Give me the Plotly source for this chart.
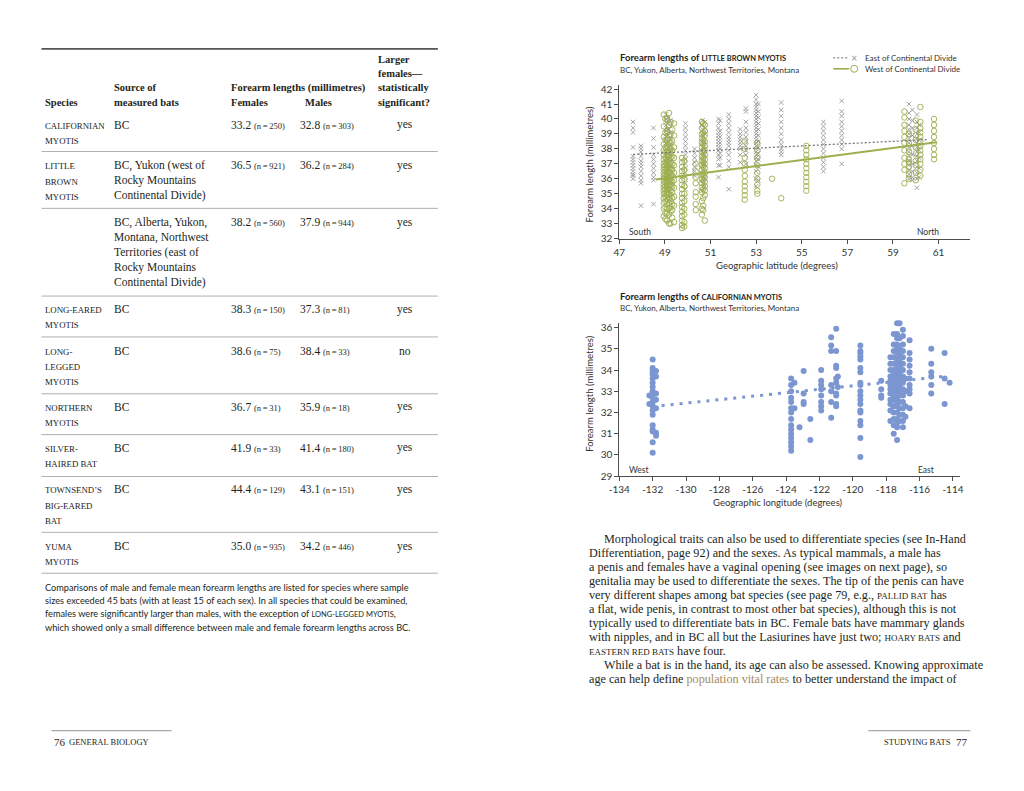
import plotly.graph_objects as go

W, H = 1024, 791
SERIF = "Liberation Serif"
SANS = "Lato"

# ---------------- Table data (left page) ----------------
species = [["CALIFORNIAN", "MYOTIS"], ["LITTLE", "BROWN", "MYOTIS"], [],
           ["LONG-EARED", "MYOTIS"], ["LONG-", "LEGGED", "MYOTIS"],
           ["NORTHERN", "MYOTIS"], ["SILVER-", "HAIRED BAT"],
           ["TOWNSEND\u2019S", "BIG-EARED", "BAT"], ["YUMA", "MYOTIS"]]
sources = [["BC"],
           ["BC, Yukon (west of", "Rocky Mountains", "Continental Divide)"],
           ["BC, Alberta, Yukon,", "Montana, Northwest", "Territories (east of",
            "Rocky Mountains", "Continental Divide)"],
           ["BC"], ["BC"], ["BC"], ["BC"], ["BC"], ["BC"]]
fem_mean = [33.2, 36.5, 38.2, 38.3, 38.6, 36.7, 41.9, 44.4, 35.0]
fem_n = [250, 921, 560, 150, 75, 31, 33, 129, 935]
male_mean = [32.8, 36.2, 37.9, 37.3, 38.4, 35.9, 41.4, 43.1, 34.2]
male_n = [303, 284, 944, 81, 33, 18, 180, 151, 446]
significant = ["yes", "yes", "yes", "yes", "no", "yes", "yes", "yes", "yes"]

# ---------------- Little brown myotis (latitude) ----------------
east_lat = ([47.6] * 13 + [47.95] * 12 + [48.5] * 11 + [49.05] * 19 + [49.25] * 9 +
            [49.9] * 16 + [50.3] * 7 + [50.65] * 16 + [51.35] * 14 + [51.8] * 14 +
            [52.3] * 9 + [52.55] * 11 + [53.0] * 26 + [54.1] * 11 + [55.95] * 12 +
            [56.75] * 11 + [59.7] * 16 + [60.05] * 14 +
            [49.15] * 14 + [50.75] * 10 + [53.1] * 12 + [51.42] * 8 + [59.85] * 10 + [60.15] * 8)
east_len = [39.8, 39.4, 39.1, 38.1, 37.5, 37.3, 37.1, 36.9, 36.7, 36.5, 36.3, 36.2, 36.0,
            38.2, 38.0, 37.8, 37.5, 37.2, 37.0, 36.8, 36.5, 36.2, 35.9, 35.7, 34.2,
            39.4, 38.7, 38.1, 37.6, 37.3, 37.0, 36.7, 36.4, 36.1, 35.9, 34.3,
            40.3, 40.0, 39.8, 39.6, 39.4, 39.2, 39.0, 38.8, 38.6, 38.4, 38.2, 38.0, 37.8, 37.5,
            37.2, 36.9, 36.5, 36.0, 35.5,
            39.9, 39.5, 39.1, 38.7, 38.3, 37.9, 37.6, 37.2, 36.8,
            39.7, 39.4, 39.1, 38.8, 38.5, 38.2, 37.9, 37.6, 37.3, 37.0, 36.7, 36.4, 36.1, 35.7,
            35.3, 34.8,
            38.0, 37.7, 37.4, 37.1, 36.8, 36.5, 36.2,
            39.9, 39.6, 39.3, 39.0, 38.7, 38.4, 38.1, 37.8, 37.5, 37.2, 36.9, 36.6, 36.3, 36.0,
            35.7, 35.2,
            40.0, 39.7, 39.4, 39.1, 38.9, 38.7, 38.5, 38.3, 38.1, 37.9, 37.6, 37.3, 36.9, 36.1,
            40.3, 40.0, 39.7, 39.4, 39.1, 38.8, 38.6, 38.4, 38.2, 37.9, 37.6, 37.2, 36.8, 35.3,
            39.3, 39.0, 38.8, 38.6, 38.4, 38.2, 38.0, 37.6, 37.1,
            40.7, 40.5, 39.8, 39.4, 39.1, 38.8, 38.5, 38.2, 37.9, 37.6, 37.0,
            41.6, 41.3, 41.0, 40.8, 40.6, 40.4, 40.2, 40.0, 39.8, 39.6, 39.4, 39.2, 39.0, 38.8,
            38.6, 38.4, 38.2, 38.0, 37.8, 37.6, 37.4, 37.2, 36.9, 36.5, 36.0, 35.5,
            41.1, 40.6, 40.2, 39.8, 39.4, 39.0, 38.6, 38.3, 38.0, 37.8, 37.6,
            39.8, 39.5, 39.2, 38.9, 38.6, 38.3, 38.0, 37.7, 37.4, 37.1, 36.8, 36.5,
            41.2, 40.5, 40.2, 39.8, 39.5, 39.2, 38.9, 38.6, 38.3, 38.0, 37.0,
            41.0, 40.4, 40.0, 39.6, 39.3, 39.0, 38.7, 38.4, 38.1, 37.8, 37.5, 37.2, 36.9, 36.6,
            36.3, 36.0,
            40.3, 39.8, 39.4, 39.0, 38.7, 38.4, 38.1, 37.8, 37.5, 37.2, 36.8, 36.4, 36.0, 35.4,
            40.1, 39.7, 39.3, 38.9, 38.5, 38.1, 37.7, 37.3, 36.9, 36.6, 36.2, 35.8, 35.2, 34.6,
            39.8, 39.4, 39.0, 38.5, 38.0, 37.6, 37.0, 36.5, 36.0, 35.5,
            41.0, 40.5, 40.1, 39.7, 39.3, 38.9, 38.5, 38.1, 37.7, 37.3, 36.8, 35.9,
            39.9, 39.2, 38.8, 38.4, 38.0, 37.7, 37.4, 36.9,
            40.6, 39.9, 39.4, 38.9, 38.2, 37.6, 37.0, 36.5, 36.1, 35.9,
            39.6, 39.1, 38.6, 38.3, 37.9, 37.4, 36.7, 36.1]

west_lat = ([48.95] * 22 + [49.1] * 23 + [49.25] * 21 + [49.4] * 11 + [49.75] * 17 +
            [50.35] * 8 + [50.62] * 19 + [50.75] * 17 + [52.5] * 11 + [53.05] * 9 +
            [53.7] + [54.1] + [55.2] * 11 + [59.5] * 11 + [60.2] * 13 + [60.8] * 8 +
            [49.02] * 20 + [49.18] * 20 + [49.32] * 14 + [49.85] * 10 + [50.68] * 14 +
            [60.0] * 10 + [59.7] * 8)
west_len = [40.3, 39.5, 38.8, 38.3, 37.9, 37.6, 37.3, 37.0, 36.8, 36.6, 36.4, 36.2, 36.0,
            35.8, 35.6, 35.4, 35.2, 35.0, 34.7, 34.4, 34.0, 33.5,
            40.0, 39.2, 38.6, 38.2, 37.8, 37.5, 37.2, 36.9, 36.7, 36.5, 36.3, 36.1, 35.9, 35.7,
            35.5, 35.3, 35.1, 34.9, 34.6, 34.3, 34.0, 33.7, 33.2,
            39.8, 39.0, 38.4, 38.0, 37.7, 37.4, 37.1, 36.8, 36.6, 36.4, 36.2, 36.0, 35.8, 35.6,
            35.4, 35.2, 34.9, 34.5, 34.1, 33.8, 33.0,
            39.7, 38.9, 38.1, 37.4, 36.9, 36.4, 35.9, 35.4, 34.8, 34.2, 33.1,
            37.4, 37.1, 36.8, 36.5, 36.2, 35.9, 35.6, 35.3, 35.0, 34.7, 34.4, 34.1, 33.8, 33.5,
            33.2, 32.9, 32.7,
            37.0, 36.5, 36.1, 35.7, 35.1, 34.8, 34.3, 33.9,
            39.8, 39.4, 39.0, 38.7, 38.4, 38.1, 37.8, 37.5, 37.2, 36.9, 36.6, 36.3, 36.0, 35.7,
            35.4, 35.1, 34.5, 34.0, 33.6,
            39.6, 39.2, 38.9, 38.5, 38.2, 37.9, 37.6, 37.3, 37.0, 36.7, 36.4, 36.1, 35.8, 35.5,
            35.2, 34.9, 33.2,
            38.5, 38.0, 37.4, 37.0, 36.6, 36.2, 35.8, 35.5, 35.2, 34.9, 34.6,
            38.4, 37.9, 37.4, 36.9, 36.4, 36.0, 35.6, 35.2, 35.0,
            36.0, 34.7,
            38.2, 37.9, 37.6, 37.3, 37.0, 36.7, 36.4, 36.1, 35.8, 35.5, 35.2,
            40.5, 40.1, 39.6, 39.2, 38.8, 38.4, 37.9, 37.4, 37.0, 36.6, 35.7,
            40.8, 39.8, 39.4, 39.1, 38.8, 38.5, 38.2, 37.9, 37.6, 37.3, 37.0, 36.6, 36.2,
            40.0, 39.6, 39.2, 38.8, 38.4, 38.0, 37.6, 37.3,
            40.0, 39.1, 38.6, 38.1, 37.8, 37.4, 37.1, 36.9, 36.6, 36.3, 36.1, 35.8, 35.5, 35.3,
            35.0, 34.8, 34.5, 34.1, 33.7, 33.3,
            40.4, 39.6, 38.9, 38.4, 37.9, 37.6, 37.3, 37.0, 36.7, 36.4, 36.1, 35.8, 35.6, 35.3,
            35.0, 34.7, 34.4, 34.0, 33.6, 33.0,
            39.3, 38.5, 37.9, 37.5, 37.0, 36.6, 36.2, 35.8, 35.5, 35.1, 34.7, 34.3, 33.9, 33.4,
            37.2, 36.6, 36.0, 35.5, 35.0, 34.5, 34.0, 33.6, 33.1, 32.8,
            39.7, 39.1, 38.6, 38.3, 37.9, 37.4, 37.1, 36.8, 36.2, 35.9, 35.3, 34.7, 34.2, 33.9,
            39.9, 39.3, 38.9, 38.6, 38.1, 37.7, 37.2, 36.9, 36.4, 35.9,
            39.0, 38.4, 37.8, 37.3, 36.8, 36.3, 36.0, 37.1]

east_fit_lat = [47.6, 60.5]
east_fit_len = [37.63, 38.62]
west_fit_lat = [48.6, 60.9]
west_fit_len = [35.95, 38.45]
lat_ticks = [47, 49, 51, 53, 55, 57, 59, 61]
lat_len_ticks = [32, 33, 34, 35, 36, 37, 38, 39, 40, 41, 42]

# ---------------- Californian myotis (longitude) ----------------
cal_lon = ([-132.0] * 20 + [-131.8] * 7 + [-132.2] * 2 + [-123.7] * 15 + [-123.5] * 2 +
           [-123.2] + [-122.95] * 4 + [-122.55] * 2 + [-121.9] * 8 + [-121.3] * 7 +
           [-121.0] * 10 + [-120.9] * 2 + [-119.55] * 19 + [-118.3] * 5 + [-117.75] * 12 +
           [-117.55] * 18 + [-117.35] * 25 + [-117.2] * 17 + [-117.0] * 16 + [-116.85] * 4 +
           [-116.6] * 10 + [-115.3] * 6 + [-114.5] * 3 + [-114.2])
cal_len = [34.5, 34.1, 34.0, 33.9, 33.8, 33.6, 33.4, 33.2, 33.0, 32.9, 32.7, 32.5, 32.3,
           32.1, 31.9, 31.4, 31.2, 31.1, 30.6, 30.1,
           33.95, 33.7, 32.9, 32.6, 32.2, 31.05, 30.9,
           32.8, 32.4,
           33.6, 33.3, 33.0, 32.7, 32.5, 32.2, 32.0, 31.7, 31.4, 31.2, 31.0, 30.8, 30.6, 30.4, 30.2,
           33.4, 32.2,
           31.3,
           33.95, 32.9, 32.5, 32.4,
           31.7, 30.7,
           34.0, 33.5, 33.3, 33.1, 32.8, 32.5, 32.3, 32.1,
           35.55, 35.15, 34.9, 33.3, 33.0, 32.5, 31.75,
           35.95, 34.9, 34.2, 34.1, 33.6, 33.4, 32.9, 32.8, 32.4, 32.3,
           33.7, 33.2,
           35.15, 34.9, 34.8, 34.65, 34.5, 34.1, 33.9, 33.4, 33.3, 33.0, 32.8, 32.6, 32.4, 32.1,
           32.0, 31.6, 31.4, 30.8, 29.9,
           36.3, 33.5, 33.1, 32.8, 32.7,
           34.6, 34.3, 34.0, 33.7, 33.5, 33.3, 33.1, 32.9, 32.6, 32.4, 32.1, 31.6,
           35.7, 35.2, 34.9, 34.6, 34.3, 34.0, 33.8, 33.6, 33.4, 33.2, 33.0, 32.8, 32.6, 32.3,
           32.0, 31.7, 31.4, 31.0,
           36.7, 36.5, 36.2, 35.7, 35.5, 35.2, 35.0, 34.8, 34.5, 34.3, 34.1, 33.9, 33.7, 33.5,
           33.3, 33.1, 32.9, 32.7, 32.5, 32.3, 32.0, 31.7, 31.5, 31.3, 30.7,
           36.2, 35.5, 35.0, 34.7, 34.4, 34.2, 34.0, 33.8, 33.6, 33.4, 33.2, 33.0, 32.8, 32.5,
           32.2, 31.9, 31.6,
           35.9, 35.6, 35.2, 34.9, 34.6, 34.3, 34.0, 33.7, 33.4, 33.1, 32.8, 32.5, 32.2, 31.9,
           31.6, 31.3,
           33.6, 33.0, 32.3, 31.8,
           35.4, 34.8, 34.5, 34.2, 33.9, 33.6, 33.3, 33.1, 32.9, 32.2,
           35.0, 34.3, 33.9, 33.7, 33.3, 32.9,
           34.8, 33.6, 32.4,
           33.4]
cal_fit_lon = [-132.0, -114.3]
cal_fit_len = [32.28, 33.72]
lon_ticks = [-134, -132, -130, -128, -126, -124, -122, -120, -118, -116, -114]
lon_len_ticks = [29, 30, 31, 32, 33, 34, 35, 36]

# ---------------- Colours ----------------
GREEN = "#9aae4c"
GRAY = "#9a9a9a"
BLUE = "#7b96d1"
TXT = "#231f20"
AX = "#4d4d4d"

# The page photograph comes out slightly scaled; these factors map the intended
# pixel positions on the reference page to figure coordinates.
SX, OX, SY = 0.9855, 11.5, 0.993


def px(x):
    return ((x - OX) / SX) / W


def py(y):
    return 1 - (y / SY) / H


fig = go.Figure()

# chart 1 traces
fig.add_trace(go.Scatter(x=east_lat, y=east_len, mode="markers", xaxis="x", yaxis="y",
                         marker=dict(symbol="x-thin", size=4.5, color=GRAY,
                                     line=dict(color=GRAY, width=0.9)), showlegend=False))
fig.add_trace(go.Scatter(x=west_lat, y=west_len, mode="markers", xaxis="x", yaxis="y",
                         marker=dict(symbol="circle-open", size=5.5, color=GREEN,
                                     line=dict(color=GREEN, width=0.9)), showlegend=False))
fig.add_trace(go.Scatter(x=east_fit_lat, y=east_fit_len, mode="lines", xaxis="x", yaxis="y",
                         line=dict(color="#7a7a7a", width=1.3, dash="2px,2px"), showlegend=False))
fig.add_trace(go.Scatter(x=west_fit_lat, y=west_fit_len, mode="lines", xaxis="x", yaxis="y",
                         line=dict(color="#9bb04e", width=2), showlegend=False))

# chart 2 traces
fig.add_trace(go.Scatter(x=cal_lon, y=cal_len, mode="markers", xaxis="x2", yaxis="y2",
                         cliponaxis=False,
                         marker=dict(symbol="circle", size=6, color=BLUE), showlegend=False))
fig.add_trace(go.Scatter(x=cal_fit_lon, y=cal_fit_len, mode="lines", xaxis="x2", yaxis="y2",
                         line=dict(color=BLUE, width=3, dash="3px,6px"), showlegend=False))

axis_common = dict(showgrid=False, zeroline=False, showline=True, linecolor=AX, linewidth=1,
                   ticks="outside", ticklen=4, tickcolor=AX, tickwidth=1,
                   tickfont=dict(family=SANS, size=10, color="#333333"))

fig.update_layout(
    width=W, height=H, margin=dict(l=0, r=0, t=0, b=0),
    paper_bgcolor="white", plot_bgcolor="rgba(0,0,0,0)",
    xaxis=dict(domain=[px(619.3), px(970)], range=[47, 62.39], anchor="y",
               tickvals=lat_ticks, **axis_common),
    yaxis=dict(domain=[py(237.3), py(83.3)], range=[32, 42.27], anchor="x",
               tickvals=lat_len_ticks, **axis_common),
    xaxis2=dict(domain=[px(619.3), px(960)], range=[-134, -113.56], anchor="y2",
                tickvals=lon_ticks, ticktext=[str(v) for v in lon_ticks], **axis_common),
    yaxis2=dict(domain=[py(475.7), py(321.7)], range=[29, 36.23], anchor="x2",
                tickvals=lon_len_ticks, **axis_common),
)

ann = []
shapes = []


def text(x, y, s, size=11, family=SERIF, color=TXT, anchor="left", **kw):
    ann.append(dict(x=px(x), y=py(y), xref="paper", yref="paper", text=s, showarrow=False,
                    xanchor=anchor, yanchor="middle",
                    font=dict(family=family, size=size, color=color), **kw))


def hline(x0, x1, y, color="#9a9a9a", width=0.8):
    shapes.append(dict(type="line", xref="paper", yref="paper", x0=px(x0), x1=px(x1),
                       y0=py(y), y1=py(y), line=dict(color=color, width=width)))


# ---------------- Left page: table ----------------
hline(42, 438, 47, color="#555555", width=1.6)
for t, yy in zip(["Larger", "females\u2014", "statistically", "significant?"], [58, 72, 86, 101]):
    text(376, yy, "<b>" + t + "</b>", size=10.5)
text(43, 101, "<b>Species</b>", size=10.5)
text(112, 86, "<b>Source of</b>", size=10.5)
text(112, 101, "<b>measured bats</b>", size=10.5)
text(229, 86, "<b>Forearm lengths (millimetres)</b>", size=10.5)
text(229, 101, "<b>Females</b>", size=10.5)
text(303, 101, "<b>Males</b>", size=10.5)

row_top = [124, 165, 222, 309, 351, 407, 448, 490, 547]
rule_y = [150, 207, 295, 336, 393, 434, 476, 532, 573]
for i in range(len(fem_mean)):
    y0 = row_top[i]
    for k, s in enumerate(species[i]):
        text(43, y0 + k * 15.2, s, size=8.8, color="#222222")
    for k, s in enumerate(sources[i]):
        text(112, y0 - 1 + k * 15.2, s, size=11.5)
    text(229, y0 - 1, f"{fem_mean[i]:.1f} <span style='font-size:8.5px'>(n\u2009=\u2009{fem_n[i]})</span>",
         size=11.5)
    text(298, y0 - 1, f"{male_mean[i]:.1f} <span style='font-size:8.5px'>(n\u2009=\u2009{male_n[i]})</span>",
         size=11.5)
    text(405, y0 - 1, significant[i], size=11.5, anchor="center")
    hline(42, 438, rule_y[i])

caption = ["Comparisons of male and female mean forearm lengths are listed for species where sample",
           "sizes exceeded 45 bats (with at least 15 of each sex). In all species that could be examined,",
           "females were significantly larger than males, with the exception of <span style='font-size:7.5px'>LONG-LEGGED MYOTIS</span>,",
           "which showed only a small difference between male and female forearm lengths across BC."]
for k, s in enumerate(caption):
    text(43, 587 + k * 13.4, s, size=9.2, family=SANS)

# footers
hline(52, 172, 731, color="#777777", width=0.8)
hline(868, 970, 731, color="#777777", width=0.8)
text(52, 742, "76", size=11)
text(67, 742, "GENERAL BIOLOGY", size=8.5)
text(953, 742, "STUDYING BATS", size=8.5, anchor="right")
text(970, 742, "77", size=11, anchor="right")

# ---------------- Chart 1 texts ----------------
text(618, 56, "<b>Forearm lengths of <span style='font-size:7.5px'>LITTLE BROWN MYOTIS</span></b>",
     size=9.5, family=SANS)
text(618, 68, "BC, Yukon, Alberta, Northwest Territories, Montana", size=8, family=SANS, color="#333333")
text(590, 163, "Forearm length (millimetres)", size=9.5, family=SANS, color="#333333",
     anchor="center", textangle=-90)
text(777, 264, "Geographic latitude (degrees)", size=9.5, family=SANS, color="#333333", anchor="center")
text(627, 231, "South", size=8.5, family=SANS, color="#333333")
text(915, 231, "North", size=8.5, family=SANS, color="#333333")
# legend
shapes.append(dict(type="line", xref="paper", yref="paper", x0=px(833), x1=px(849), y0=py(56),
                   y1=py(56), line=dict(color="#888888", width=1.2, dash="2px,2px")))
text(854, 55.5, "\u00d7", size=11, family=SANS, color=GRAY, anchor="center")
text(863, 56, "East of Continental Divide", size=8, family=SANS, color="#333333")
shapes.append(dict(type="line", xref="paper", yref="paper", x0=px(833), x1=px(849), y0=py(67),
                   y1=py(67), line=dict(color=GREEN, width=1.6)))
shapes.append(dict(type="circle", xref="paper", yref="paper", x0=px(850.5), x1=px(857.5),
                   y0=py(70.5), y1=py(63.5), line=dict(color=GREEN, width=1)))
text(863, 67, "West of Continental Divide", size=8, family=SANS, color="#333333")

# ---------------- Chart 2 texts ----------------
text(618, 295, "<b>Forearm lengths of <span style='font-size:7.5px'>CALIFORNIAN MYOTIS</span></b>",
     size=9.5, family=SANS)
text(618, 307, "BC, Yukon, Alberta, Northwest Territories, Montana", size=8, family=SANS, color="#333333")
text(590, 393, "Forearm length (millimetres)", size=9.5, family=SANS, color="#333333",
     anchor="center", textangle=-90)
text(778, 502, "Geographic longitude (degrees)", size=9.5, family=SANS, color="#333333", anchor="center")
text(627, 469, "West", size=8.5, family=SANS, color="#333333")
text(916, 469, "East", size=8.5, family=SANS, color="#333333")

# ---------------- Right page body text ----------------
sc = "<span style='font-size:9px'>{}</span>"
body = [
    (602, "Morphological traits can also be used to differentiate species (see In-Hand"),
    (587, "Differentiation, page 92) and the sexes. As typical mammals, a male has"),
    (587, "a penis and females have a vaginal opening (see images on next page), so"),
    (587, "genitalia may be used to differentiate the sexes. The tip of the penis can have"),
    (587, "very different shapes among bat species (see page 79, e.g., " + sc.format("PALLID BAT") + " has"),
    (587, "a flat, wide penis, in contrast to most other bat species), although this is not"),
    (587, "typically used to differentiate bats in BC. Female bats have mammary glands"),
    (587, "with nipples, and in BC all but the Lasiurines have just two; " + sc.format("HOARY BATS") + " and"),
    (587, sc.format("EASTERN RED BATS") + " have four."),
    (602, "While a bat is in the hand, its age can also be assessed. Knowing approximate"),
    (587, "age can help define <span style='color:#a68a5b'>population vital rates</span> to better understand the impact of"),
]
for k, (x0, s) in enumerate(body):
    text(x0, 539 + k * 14, s, size=12.2)

fig.update_layout(annotations=ann, shapes=shapes)
fig.write_html("out.html", config={"displayModeBar": False},
               post_script="document.body.style.margin='0';document.body.style.padding='0';")
